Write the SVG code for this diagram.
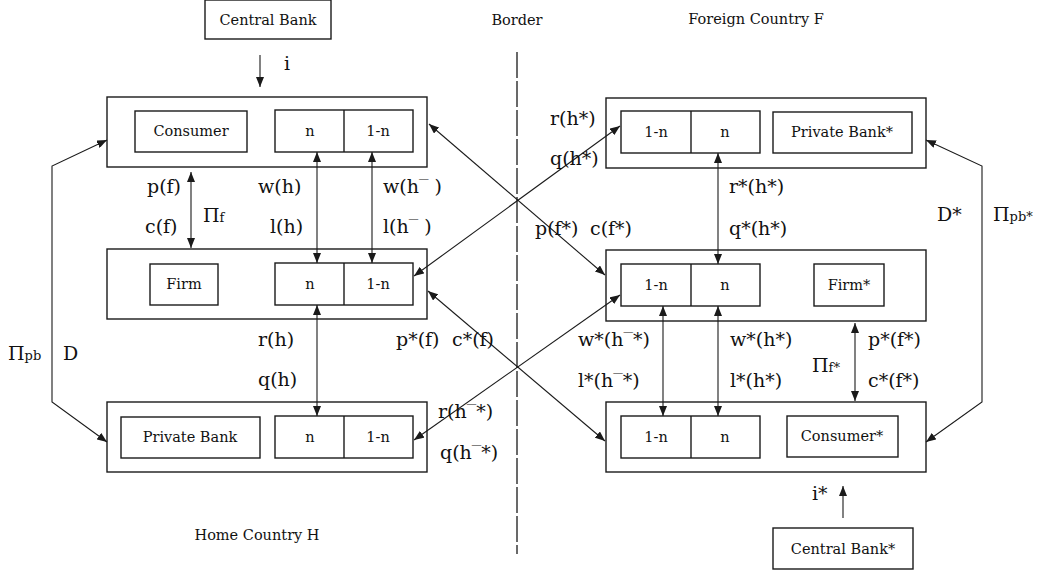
<svg xmlns="http://www.w3.org/2000/svg" width="1041" height="577" viewBox="0 0 1041 577">
<style>
.box{fill:#fff;stroke:#1a1a1a;stroke-width:1.4}
.lbl{font-family:"DejaVu Serif","Liberation Serif",serif;font-size:14.5px;fill:#111;text-anchor:middle;dominant-baseline:central}
.m{font-family:"DejaVu Serif","Liberation Serif",serif;font-size:19px;fill:#111}
.sub{font-size:13px}
.c{fill:none;stroke:#1a1a1a;stroke-width:1.1}
.b{marker-end:url(#ah);marker-start:url(#ah)}
.e{marker-end:url(#ah)}
</style>
<defs>
<marker id="ah" markerUnits="userSpaceOnUse" markerWidth="10" markerHeight="8" refX="10" refY="4" orient="auto-start-reverse">
<path d="M0,0 L10,4 L0,8 z" fill="#1a1a1a"/>
</marker>
</defs>
<rect width="1041" height="577" fill="#fff"/>

<!-- titles -->
<text class="lbl" x="517" y="20">Border</text>
<text class="lbl" x="756" y="19">Foreign Country F</text>
<text class="lbl" x="257" y="535">Home Country H</text>
<line x1="517" y1="52" x2="517" y2="554" stroke="#1a1a1a" stroke-width="1.3" stroke-dasharray="26 3"/>

<g id="central-bank">
<rect class="box" x="205" y="0" width="126" height="39"/>
<text class="lbl" x="268" y="20">Central Bank</text>
</g>

<g id="consumer">
<rect class="box" x="107" y="97" width="320" height="70"/>
<rect class="box" x="135" y="111" width="112" height="41"/>
<text class="lbl" x="191" y="131">Consumer</text>
<rect class="box" x="275" y="110" width="138" height="42"/>
<line x1="344" y1="110" x2="344" y2="152" stroke="#1a1a1a" stroke-width="1.4"/>
<text class="lbl" x="310" y="131">n</text>
<text class="lbl" x="378" y="131">1-n</text>
</g>

<g id="firm">
<rect class="box" x="107" y="249" width="320" height="70"/>
<rect class="box" x="150" y="264" width="68" height="41"/>
<text class="lbl" x="184" y="284">Firm</text>
<rect class="box" x="275" y="263" width="138" height="42"/>
<line x1="344" y1="263" x2="344" y2="305" stroke="#1a1a1a" stroke-width="1.4"/>
<text class="lbl" x="310" y="284">n</text>
<text class="lbl" x="378" y="284">1-n</text>
</g>

<g id="private-bank">
<rect class="box" x="107" y="402" width="320" height="70"/>
<rect class="box" x="121" y="417" width="139" height="41"/>
<text class="lbl" x="190" y="437">Private Bank</text>
<rect class="box" x="275" y="416" width="138" height="42"/>
<line x1="344" y1="416" x2="344" y2="458" stroke="#1a1a1a" stroke-width="1.4"/>
<text class="lbl" x="310" y="437">n</text>
<text class="lbl" x="378" y="437">1-n</text>
</g>

<g id="private-bank-star">
<rect class="box" x="606" y="98" width="320" height="70"/>
<rect class="box" x="621" y="111" width="139" height="42"/>
<line x1="691" y1="111" x2="691" y2="153" stroke="#1a1a1a" stroke-width="1.4"/>
<text class="lbl" x="656" y="132">1-n</text>
<text class="lbl" x="725" y="132">n</text>
<rect class="box" x="773" y="112" width="139" height="41"/>
<text class="lbl" x="842" y="132">Private Bank*</text>
</g>

<g id="firm-star">
<rect class="box" x="606" y="250" width="320" height="71"/>
<rect class="box" x="621" y="264" width="139" height="42"/>
<line x1="691" y1="264" x2="691" y2="306" stroke="#1a1a1a" stroke-width="1.4"/>
<text class="lbl" x="656" y="285">1-n</text>
<text class="lbl" x="725" y="285">n</text>
<rect class="box" x="814" y="264" width="70" height="42"/>
<text class="lbl" x="849" y="285">Firm*</text>
</g>

<g id="consumer-star">
<rect class="box" x="606" y="402" width="320" height="70"/>
<rect class="box" x="621" y="416" width="139" height="42"/>
<line x1="691" y1="416" x2="691" y2="458" stroke="#1a1a1a" stroke-width="1.4"/>
<text class="lbl" x="656" y="437">1-n</text>
<text class="lbl" x="725" y="437">n</text>
<rect class="box" x="787" y="416" width="111" height="41"/>
<text class="lbl" x="842" y="436">Consumer*</text>
</g>

<g id="central-bank-star">
<rect class="box" x="773" y="528" width="140" height="41"/>
<text class="lbl" x="843" y="549">Central Bank*</text>
</g>

<g id="connectors">
<line class="c e" x1="260" y1="55" x2="260" y2="87"/>
<line class="c e" x1="843" y1="518" x2="843" y2="486"/>
<line class="c b" x1="191" y1="172" x2="191" y2="248"/>
<line class="c b" x1="317" y1="152" x2="317" y2="263"/>
<line class="c b" x1="372" y1="152" x2="372" y2="263"/>
<line class="c b" x1="317" y1="305" x2="317" y2="416"/>
<line class="c b" x1="718" y1="153" x2="718" y2="264"/>
<line class="c b" x1="663" y1="306" x2="663" y2="416"/>
<line class="c b" x1="718" y1="306" x2="718" y2="416"/>
<line class="c b" x1="855" y1="323" x2="855" y2="401"/>
<polyline class="c b" points="107,140 52,166 52,402 107,442"/>
<polyline class="c b" points="926,140 982,166 982,402 926,442"/>
<line class="c b" x1="429" y1="124" x2="605" y2="275"/>
<line class="c b" x1="620" y1="126" x2="414" y2="276"/>
<line class="c b" x1="428" y1="291" x2="605" y2="441"/>
<line class="c b" x1="620" y1="295" x2="414" y2="440"/>
</g>

<g id="labels">
<text class="m" x="284" y="70">i</text>
<text class="m" x="147" y="193">p(f)</text>
<text class="m" x="145" y="233">c(f)</text>
<text class="m" x="203" y="222">Π<tspan class="sub">f</tspan></text>
<text class="m" x="258" y="193">w(h)</text>
<text class="m" x="270" y="233">l(h)</text>
<text class="m" x="383" y="193">w(h‾ )</text>
<text class="m" x="383" y="233">l(h‾ )</text>
<text class="m" x="550" y="125">r(h*)</text>
<text class="m" x="550" y="165">q(h*)</text>
<text class="m" x="729" y="193">r*(h*)</text>
<text class="m" x="729" y="235">q*(h*)</text>
<text class="m" x="535" y="235">p(f*)</text>
<text class="m" x="590" y="235">c(f*)</text>
<text class="m" x="937" y="221">D*</text>
<text class="m" x="993" y="221">Π<tspan class="sub">pb*</tspan></text>
<text class="m" x="8" y="360">Π<tspan class="sub">pb</tspan></text>
<text class="m" x="63" y="360">D</text>
<text class="m" x="258" y="346">r(h)</text>
<text class="m" x="258" y="386">q(h)</text>
<text class="m" x="396" y="346">p*(f)</text>
<text class="m" x="452" y="346">c*(f)</text>
<text class="m" x="438" y="418">r(h‾*)</text>
<text class="m" x="440" y="459">q(h‾*)</text>
<text class="m" x="578" y="346">w*(h‾*)</text>
<text class="m" x="578" y="387">l*(h‾*)</text>
<text class="m" x="730" y="346">w*(h*)</text>
<text class="m" x="730" y="387">l*(h*)</text>
<text class="m" x="812" y="372">Π<tspan class="sub">f*</tspan></text>
<text class="m" x="868" y="346">p*(f*)</text>
<text class="m" x="868" y="387">c*(f*)</text>
<text class="m" x="812" y="500">i*</text>
</g>
</svg>
